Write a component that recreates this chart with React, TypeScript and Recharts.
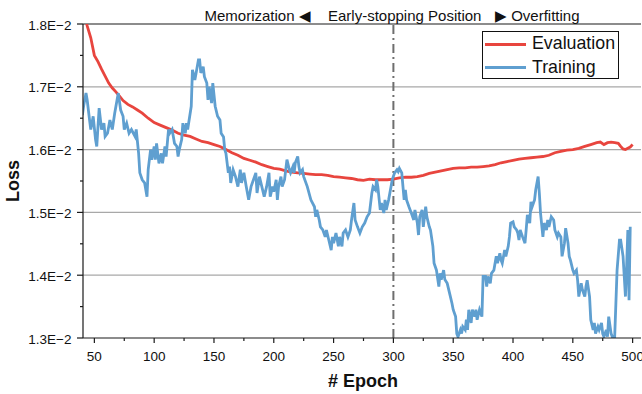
import { LineChart, Line, XAxis, YAxis, CartesianGrid, ReferenceLine } from "recharts";

const evalEpoch = [
	40, 42, 44, 47, 50, 53, 56, 59, 62, 65, 68, 71, 74, 78, 82, 86, 90, 95, 100, 105, 110, 115, 120, 125, 130,
	135, 140, 145, 150, 155, 160, 165, 170, 175, 180, 185, 190, 195, 200, 205, 210, 215, 220, 225, 230, 235,
	240, 245, 250, 255, 260, 265, 270, 275, 280, 285, 290, 295, 300, 305, 310, 315, 320, 325, 330, 335, 340,
	345, 350, 355, 360, 365, 370, 375, 380, 385, 390, 395, 400, 405, 410, 415, 420, 425, 430, 435, 440, 445,
	450, 455, 460, 465, 470, 473, 476, 479, 482, 485, 488, 490, 492, 494, 496, 498, 500,
];
const evalLoss = [
	0.01835, 0.01815, 0.01797, 0.01778, 0.0175, 0.0174, 0.01728, 0.01717, 0.01706, 0.01698, 0.01692, 0.01685,
	0.01678, 0.01672, 0.01668, 0.01663, 0.01658, 0.0165, 0.01643, 0.01639, 0.01635, 0.01631, 0.01626, 0.01623,
	0.01621, 0.01617, 0.01613, 0.01611, 0.01608, 0.01605, 0.016, 0.01595, 0.01591, 0.01586, 0.01583, 0.0158,
	0.01576, 0.01573, 0.0157, 0.01569, 0.01566, 0.01564, 0.01563, 0.01562, 0.01561, 0.0156, 0.0156, 0.01559,
	0.01557, 0.01556, 0.01555, 0.01554, 0.01552, 0.01551, 0.01553, 0.01552, 0.01552, 0.01552, 0.01553, 0.01555,
	0.01556, 0.01556, 0.01557, 0.01559, 0.01562, 0.01564, 0.01566, 0.01568, 0.0157, 0.01571, 0.01571, 0.01572,
	0.01572, 0.01573, 0.01574, 0.01576, 0.01579, 0.01581, 0.01583, 0.01585, 0.01586, 0.01587, 0.01588, 0.01589,
	0.01591, 0.01595, 0.01597, 0.01599, 0.016, 0.01602, 0.01605, 0.01608, 0.01611, 0.01612, 0.01608, 0.01611,
	0.01612, 0.01611, 0.0161, 0.01605, 0.01601, 0.016, 0.01602, 0.01604, 0.01608,
];

const trainEpoch = [
	40, 41, 43, 44, 46, 47, 49, 51, 52, 54, 56, 58, 59, 61, 63, 65, 67, 70, 72, 74, 75, 77, 79, 81, 84, 85, 87,
	88, 90, 92, 94, 95, 97, 98, 100, 101, 102, 104, 106, 107, 109, 110, 112, 113, 115, 117, 119, 120, 121, 123,
	124, 126, 127, 128, 131, 132, 134, 135, 137, 138, 139, 141, 142, 144, 145, 146, 148, 149, 151, 153, 155,
	156, 158, 159, 160, 162, 163, 164, 166, 168, 170, 172, 173, 175, 177, 179, 181, 183, 185, 186, 188, 190,
	192, 194, 196, 197, 199, 200, 202, 203, 204, 206, 207, 209, 210, 211, 213, 214, 216, 217, 218, 220, 221,
	222, 224, 225, 228, 231, 234, 235, 236, 238, 239, 241, 243, 244, 246, 248, 249, 250, 252, 254, 255, 257,
	258, 260, 262, 264, 265, 267, 268, 270, 272, 274, 276, 278, 280, 282, 283, 285, 286, 287, 289, 290, 292,
	293, 294, 296, 298, 299, 301, 303, 304, 305, 307, 308, 309, 310, 311, 313, 314, 315, 317, 318, 320, 321,
	322, 324, 325, 327, 328, 330, 331, 333, 334, 336, 338, 339, 340, 342, 343, 345, 347, 349, 350, 352, 353,
	354, 356, 357, 358, 360, 361, 362, 363, 365, 366, 368, 369, 370, 372, 374, 375, 377, 378, 379, 381, 382,
	384, 386, 387, 389, 390, 391, 393, 394, 396, 397, 398, 400, 401, 403, 404, 405, 406, 408, 410, 411, 412,
	414, 415, 416, 418, 419, 421, 422, 423, 425, 426, 428, 429, 430, 432, 434, 435, 437, 438, 440, 441, 443,
	444, 446, 447, 448, 450, 451, 453, 454, 455, 457, 458, 460, 461, 462, 464, 465, 467, 468, 469, 471, 472,
	474, 475, 476, 478, 479, 480, 482, 483, 485, 486, 487, 489, 490, 492, 493, 494, 495, 496, 497, 498,
];
const trainLoss = [
	0.01655, 0.01669, 0.0169, 0.01679, 0.01647, 0.01632, 0.01653, 0.01616, 0.01605, 0.01666, 0.01632, 0.01642,
	0.01621, 0.01626, 0.01647, 0.01632, 0.01658, 0.0169, 0.01663, 0.01653, 0.01632, 0.01642, 0.01626, 0.01632,
	0.01621, 0.01632, 0.01594, 0.01563, 0.01552, 0.01547, 0.01525, 0.01568, 0.016, 0.01584, 0.01605, 0.01584,
	0.0161, 0.01578, 0.01594, 0.01578, 0.01605, 0.01589, 0.01632, 0.01626, 0.01632, 0.0161, 0.01605, 0.01589,
	0.016, 0.01616, 0.01642, 0.01626, 0.01642, 0.01632, 0.01669, 0.01727, 0.01711, 0.01721, 0.01743, 0.01743,
	0.01722, 0.01732, 0.01716, 0.01706, 0.01679, 0.017, 0.01674, 0.01706, 0.01669, 0.01653, 0.01647, 0.01626,
	0.0162, 0.016, 0.01594, 0.01563, 0.01573, 0.01547, 0.01568, 0.01557, 0.01541, 0.01568, 0.01547, 0.01563,
	0.01541, 0.0152, 0.01541, 0.01552, 0.01563, 0.01531, 0.01557, 0.01541, 0.01525, 0.01541, 0.01563, 0.01525,
	0.01541, 0.01533, 0.01552, 0.0152, 0.01541, 0.01557, 0.01541, 0.01552, 0.01568, 0.01584, 0.01568, 0.01563,
	0.01573, 0.01563, 0.01579, 0.01589, 0.01573, 0.01563, 0.01568, 0.01557, 0.01541, 0.0152, 0.01509, 0.01493,
	0.01504, 0.01488, 0.01477, 0.01472, 0.01461, 0.01472, 0.01456, 0.0144, 0.01461, 0.01451, 0.01467, 0.01446,
	0.01461, 0.01446, 0.01467, 0.01472, 0.01461, 0.01472, 0.01488, 0.01515, 0.01488, 0.01477, 0.01467, 0.01477,
	0.01483, 0.01493, 0.01499, 0.01531, 0.01541, 0.01536, 0.01552, 0.01541, 0.01504, 0.01515, 0.01499, 0.0152,
	0.01504, 0.0152, 0.01541, 0.01552, 0.01563, 0.01568, 0.01565, 0.0157, 0.01563, 0.01541, 0.0152, 0.01536,
	0.0152, 0.01509, 0.01504, 0.01499, 0.01488, 0.01504, 0.01483, 0.01464, 0.01493, 0.01504, 0.01477, 0.01509,
	0.01493, 0.01477, 0.01472, 0.01446, 0.01419, 0.01408, 0.01382, 0.01403, 0.01393, 0.01408, 0.01393, 0.01387,
	0.01371, 0.01355, 0.01345, 0.01334, 0.01307, 0.01302, 0.01313, 0.01307, 0.01318, 0.01313, 0.01329, 0.01313,
	0.01345, 0.01324, 0.01345, 0.01334, 0.01345, 0.01329, 0.01345, 0.01334, 0.01398, 0.01398, 0.01382, 0.01398,
	0.01387, 0.01403, 0.01408, 0.0143, 0.01419, 0.01435, 0.01424, 0.01419, 0.0144, 0.0143, 0.01446, 0.01461,
	0.01483, 0.01485, 0.01477, 0.01472, 0.01467, 0.01456, 0.01472, 0.01461, 0.01451, 0.01472, 0.01496, 0.01483,
	0.01517, 0.01509, 0.0152, 0.01536, 0.01557, 0.01531, 0.01499, 0.01461, 0.01483, 0.01472, 0.01488, 0.01477,
	0.01493, 0.01488, 0.01472, 0.01461, 0.01467, 0.01461, 0.0143, 0.01451, 0.01475, 0.01451, 0.0143, 0.01424,
	0.01408, 0.01403, 0.01408, 0.01392, 0.01366, 0.01387, 0.01377, 0.01366, 0.01382, 0.01392, 0.01366, 0.01329,
	0.01313, 0.01324, 0.01307, 0.01318, 0.01313, 0.01324, 0.01307, 0.01302, 0.01313, 0.01302, 0.01334, 0.01307,
	0.01302, 0.01302, 0.01355, 0.01408, 0.01456, 0.01456, 0.0143, 0.01398, 0.01366, 0.01414, 0.01472, 0.0136,
	0.01477,
];

const xTicks = [50, 75, 100, 125, 150, 175, 200, 225, 250, 275, 300, 325, 350, 375, 400, 425, 450, 475, 500];
const yTicks = [0.013, 0.0135, 0.014, 0.0145, 0.015, 0.0155, 0.016, 0.0165, 0.017, 0.0175, 0.018];
const gridValues = [0.014, 0.015, 0.016, 0.017];

const evalData = evalEpoch.map((e, i) => ({ epoch: e, loss: evalLoss[i] }));
const trainData = trainEpoch.map((e, i) => ({ epoch: e, loss: trainLoss[i] }));

const FONT = "'Liberation Sans', Arial, sans-serif";
const RED = "#e8453e";
const BLUE = "#5f9fd0";
const AXIS = "#1a1a1a";

function XTick(props: any) {
	const { x, y, payload } = props;
	const major = payload.value % 50 === 0;
	return (
		<g>
			<line x1={x} x2={x} y1={y} y2={y + (major ? 5 : 3)} stroke={AXIS} strokeWidth={1.2} />
			{major && (
				<text x={x} y={y + 23} textAnchor="middle" fontSize={13.5} fontFamily={FONT} fill="#111">
					{payload.value}
				</text>
			)}
		</g>
	);
}

function YTick(props: any) {
	const { x, y, payload } = props;
	const v = payload.value;
	const major = Math.abs(v * 1000 - Math.round(v * 1000)) < 1e-6;
	return (
		<g>
			<line x1={x - (major ? 6 : 3)} x2={x} y1={y} y2={y} stroke={AXIS} strokeWidth={1.2} />
			{major && (
				<text x={x - 11.5} y={y + 5.5} textAnchor="end" fontSize={13.5} fontFamily={FONT} fill="#111">
					{`${(v * 100).toFixed(1)}E\u22122`}
				</text>
			)}
		</g>
	);
}

const abs = (left: number, top: number): React.CSSProperties => ({
	position: "absolute",
	left,
	top,
	fontFamily: FONT,
	color: "#111",
	whiteSpace: "nowrap",
	lineHeight: 1,
});

export default function App() {
	return (
		<div style={{ position: "absolute", left: 0, top: 0, width: 642, height: 394, background: "#fff" }}>
			<LineChart width={642} height={394} data={evalData} margin={{ top: 24, right: 1, left: 0, bottom: 0 }}>
				<CartesianGrid vertical={false} horizontalValues={gridValues} stroke="#a8a8a8" strokeWidth={1.3} />
				<XAxis
					dataKey="epoch"
					type="number"
					domain={[40.5, 507]}
					allowDataOverflow
					ticks={xTicks}
					interval={0}
					tick={XTick}
					tickLine={false}
					tickSize={0}
					tickMargin={0}
					height={56}
					stroke={AXIS}
					strokeWidth={1.2}
				/>
				<YAxis
					type="number"
					domain={[0.013, 0.018]}
					allowDataOverflow
					ticks={yTicks}
					interval={0}
					tick={YTick}
					tickLine={false}
					tickSize={0}
					tickMargin={0}
					width={83}
					stroke={AXIS}
					strokeWidth={1.2}
				/>
				<ReferenceLine y={0.018} stroke={AXIS} strokeWidth={1.2} />
				<ReferenceLine x={300} stroke="#6e6e6e" strokeWidth={2} strokeDasharray="9 4 2 4" />
				<Line
					data={evalData}
					dataKey="loss"
					type="linear"
					stroke={RED}
					strokeWidth={2.8}
					dot={false}
					isAnimationActive={false}
				/>
				<Line
					data={trainData}
					dataKey="loss"
					type="linear"
					stroke={BLUE}
					strokeWidth={2.8}
					dot={false}
					isAnimationActive={false}
				/>
			</LineChart>

			<div style={{ ...abs(204.5, 8), fontSize: 15 }}>Memorization ◀</div>
			<div style={{ ...abs(328, 8), fontSize: 15 }}>Early-stopping Position</div>
			<div style={{ ...abs(495, 8), fontSize: 15 }}>▶ Overfitting</div>

			<div
				style={{
					position: "absolute",
					left: 482,
					top: 31,
					width: 135,
					height: 46,
					border: "1px solid #111",
					background: "#fff",
				}}
			>
				<div style={{ position: "absolute", left: 2, top: 10.5, width: 41, height: 3, background: RED }} />
				<div style={{ ...abs(49, 3), fontSize: 17.8 }}>Evaluation</div>
				<div style={{ position: "absolute", left: 2, top: 34, width: 41, height: 3, background: BLUE }} />
				<div style={{ ...abs(49, 26.5), fontSize: 17.8 }}>Training</div>
			</div>

			<div style={{ ...abs(328, 372), fontSize: 18, fontWeight: "bold", width: 70, textAlign: "center" }}>
				# Epoch
			</div>
			<div
				style={{
					...abs(-9, 172),
					fontSize: 18,
					fontWeight: "bold",
					width: 44,
					textAlign: "center",
					transform: "rotate(-90deg)",
				}}
			>
				Loss
			</div>
		</div>
	);
}
